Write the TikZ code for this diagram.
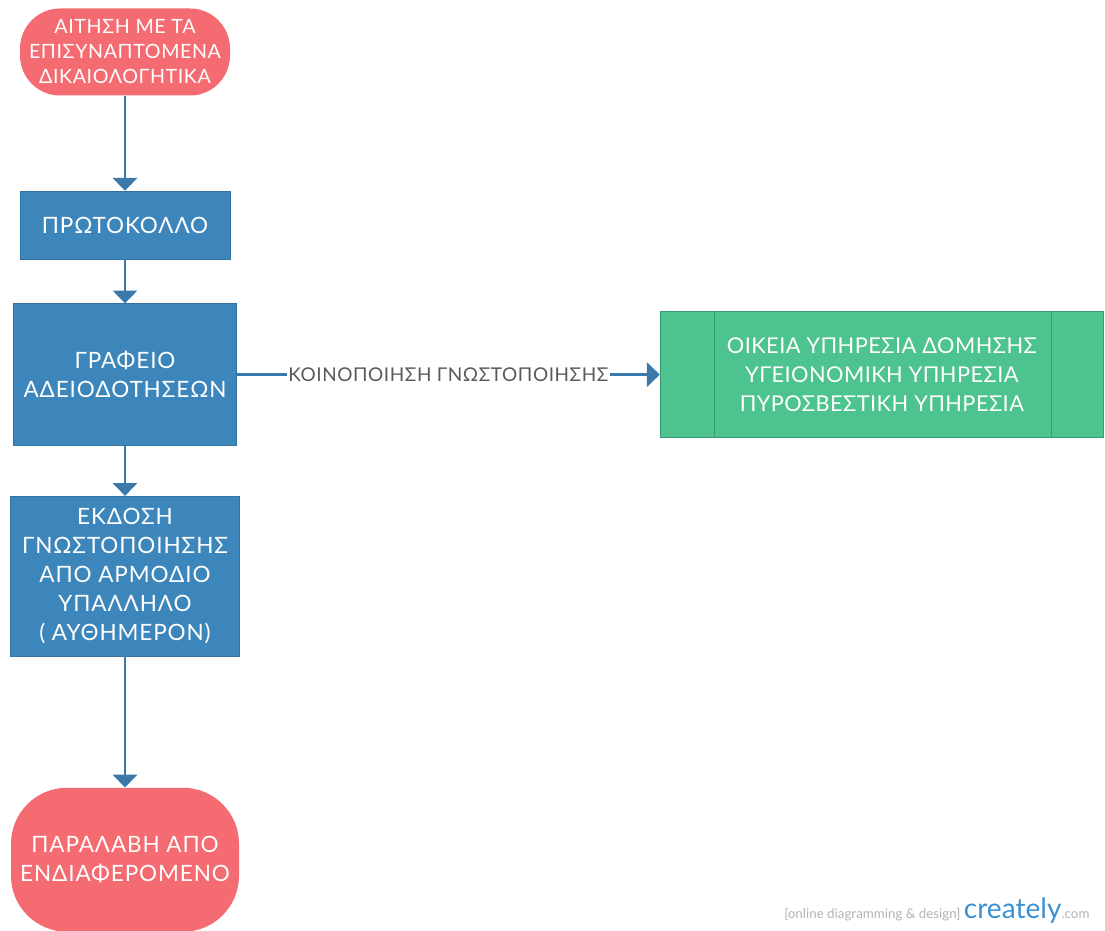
\documentclass[tikz,border=0pt]{standalone}
\usepackage{fontspec}
\setmainfont{Lato}
\usetikzlibrary{positioning}
\usetikzlibrary{arrows.meta}
\definecolor{startred}{HTML}{F46B72}
\definecolor{boxblue}{HTML}{3D86BB}
\definecolor{lineblue}{HTML}{3A79AA}
\definecolor{servicegreen}{HTML}{4DC390}
\definecolor{servicedark}{HTML}{3A9A6E}
\definecolor{labelgray}{HTML}{595959}
\definecolor{markblue}{HTML}{3B91D3}

\begin{document}
\begin{tikzpicture}[ roundnode/.style={rectangle, rounded corners=1cm,
      fill=startred, text=white, align=center, inner sep=2pt},
    squarednode/.style={rectangle, draw=boxblue!85!black, fill=boxblue,
      text=white, align=center, inner sep=2pt,
      font=\fontsize{16}{20.6}\selectfont\addfontfeature{LetterSpace=4}},
    flow/.style={draw=lineblue, line width=2.1pt,
      -{Triangle[width=0.6cm,length=0.32cm]}}, ]
    \useasboundingbox (0,0) rectangle (27.625,-23.275);
    % Nodes
    \node[roundnode, minimum width=5.25cm, minimum height=2.175cm,
    font=\fontsize{14}{17.8}\selectfont\addfontfeature{LetterSpace=3}]
    (request) at (3.125,-1.3)
    {ΑΙΤΗΣΗ ΜΕ ΤΑ\\ΕΠΙΣΥΝΑΠΤΟΜΕΝΑ\\ΔΙΚΑΙΟΛΟΓΗΤΙΚΑ};
    \node[squarednode, minimum width=5.25cm, minimum height=1.7cm]
    (protocol) [below=2.375cm of request] {ΠΡΩΤΟΚΟΛΛΟ};
    \node[squarednode, minimum width=5.575cm, minimum height=3.55cm]
    (office) [below=1.1cm of protocol] {ΓΡΑΦΕΙΟ\\ΑΔΕΙΟΔΟΤΗΣΕΩΝ};
    \node[squarednode, minimum width=5.725cm, minimum height=4cm]
    (issue) [below=1.25cm of office] {ΕΚΔΟΣΗ\\ΓΝΩΣΤΟΠΟΙΗΣΗΣ\\ΑΠΟ
      ΑΡΜΟΔΙΟ\\ΥΠΑΛΛΗΛΟ\\( ΑΥΘΗΜΕΡΟΝ)};
    \node[roundnode, rounded corners=1.4cm, minimum width=5.7cm,
    minimum height=3.6cm,
    font=\fontsize{16}{20.6}\selectfont\addfontfeature{LetterSpace=4}]
    (receipt) [below=3.275cm of issue] {ΠΑΡΑΛΑΒΗ ΑΠΟ\\ΕΝΔΙΑΦΕΡΟΜΕΝΟ};
    \node[rectangle, draw=servicedark, thick, fill=servicegreen,
    text=white, align=center, minimum width=11.075cm,
    minimum height=3.15cm,
    font=\fontsize{15.5}{20.9}\selectfont\addfontfeature{LetterSpace=2}]
    (services) [right=10.575cm of office] {ΟΙΚΕΙΑ ΥΠΗΡΕΣΙΑ
      ΔΟΜΗΣΗΣ\\ΥΓΕΙΟΝΟΜΙΚΗ ΥΠΗΡΕΣΙΑ\\ΠΥΡΟΣΒΕΣΤΙΚΗ ΥΠΗΡΕΣΙΑ};
    \draw[servicedark, thick] ([xshift=1.375cm]services.north west)
    -- ([xshift=1.375cm]services.south west); \draw[servicedark,
    thick] ([xshift=-1.3cm]services.north east) --
    ([xshift=-1.3cm]services.south east);
    \node[anchor=base west, inner sep=0, text=gray!60] (watermark) at
    (19.6,-22.95) {\fontsize{9.5}{11}\selectfont [online diagramming
      \& design]\ \textcolor{markblue}{\fontsize{20}{22}\selectfont
        creately}\textcolor{gray!60}{\fontsize{9.5}{11}\selectfont
        .com}};
    % Lines
    \draw[flow] (request.south) -- (protocol.north); \draw[flow]
    (protocol.south) -- (office.north); \draw[flow] (office.south) --
    (issue.north); \draw[flow] (issue.south) -- (receipt.north);
    \draw[flow] (office.east) -- node[fill=white, text=labelgray,
    inner sep=1pt,
    font=\fontsize{13.5}{15}\selectfont\addfontfeature{LetterSpace=3}]
    (notice) {ΚΟΙΝΟΠΟΙΗΣΗ ΓΝΩΣΤΟΠΟΙΗΣΗΣ} (services.west);
  \end{tikzpicture}
\end{document}
